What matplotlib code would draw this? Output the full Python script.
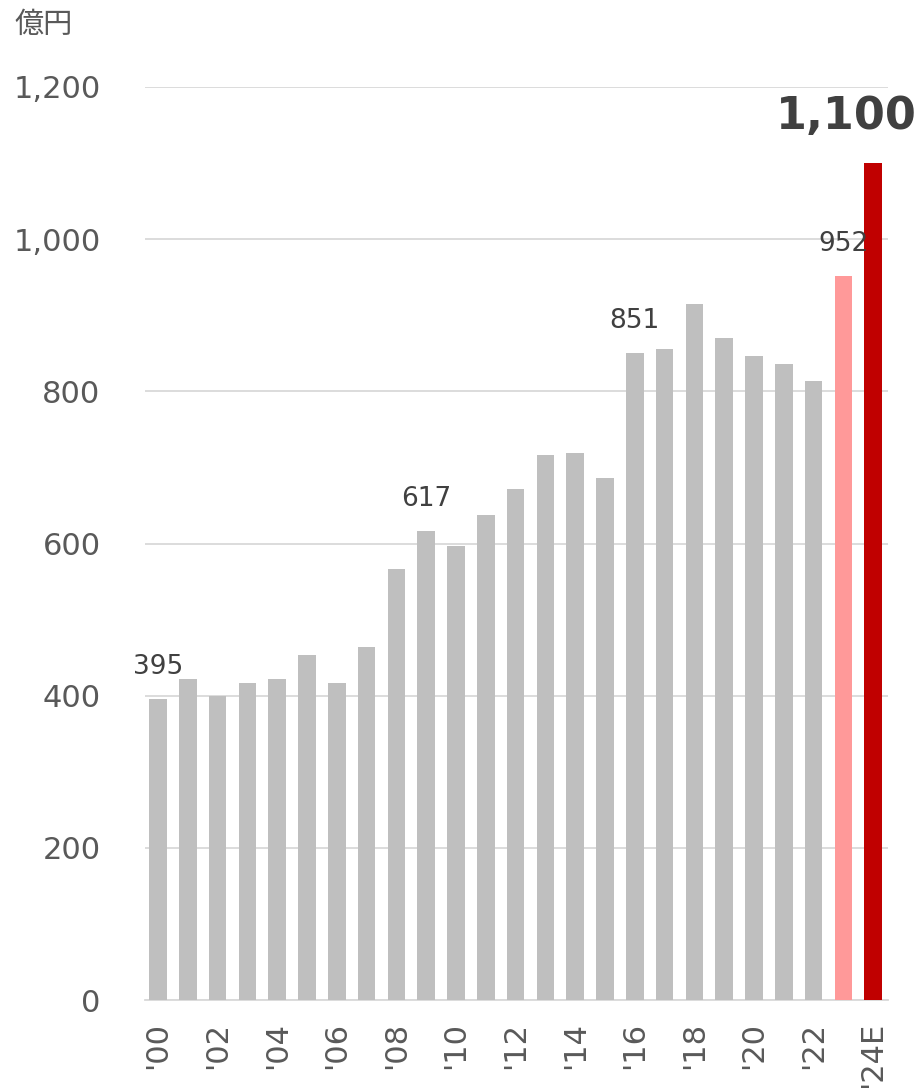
import matplotlib
matplotlib.use("Agg")
import matplotlib.pyplot as plt

years = ["'00", "'01", "'02", "'03", "'04", "'05", "'06", "'07", "'08", "'09",
         "'10", "'11", "'12", "'13", "'14", "'15", "'16", "'17", "'18", "'19",
         "'20", "'21", "'22", "'23", "'24E"]
values = [395, 422, 399, 416, 422, 454, 416, 464, 567, 617,
          597, 637, 671, 716, 719, 686, 851, 855, 915, 870,
          847, 836, 813, 952, 1100]
tick_labels = ["'00", "'02", "'04", "'06", "'08", "'10", "'12", "'14", "'16",
               "'18", "'20", "'22", "'24E"]
labeled = {"'00": "395", "'09": "617", "'16": "851", "'23": "952"}
unit = "億円"

plt.rcParams['font.family'] = ['DejaVu Sans', 'Noto Sans CJK JP']

colors = ['#bfbfbf'] * (len(values) - 2) + ['#ff9999', '#c00000']

fig = plt.figure(figsize=(9.22, 10.88), dpi=100)
ax = fig.add_axes([145/922, 1 - 1000/1088, (888-145)/922, (1000-87)/1088])

x = list(range(len(values)))
ax.bar(x, values, width=0.59, color=colors, zorder=3)

ax.set_ylim(0, 1200)
ax.set_xlim(-0.44, len(values) - 0.5)
ax.set_yticks(range(0, 1201, 200))
ax.set_yticklabels([f"{v:,}" for v in range(0, 1201, 200)])
ax.yaxis.grid(True, color='#d9d9d9', linewidth=1.3, zorder=0)
ax.set_axisbelow(True)

tick_pos = [years.index(t) for t in tick_labels]
ax.set_xticks(tick_pos)
ax.set_xticklabels(tick_labels, rotation=90)

ax.tick_params(axis='y', length=0, pad=32, labelsize=22, labelcolor='#595959')
ax.tick_params(axis='x', length=0, pad=16, labelsize=22, labelcolor='#595959')

for s in ['top', 'right', 'left']:
    ax.spines[s].set_visible(False)
ax.spines['bottom'].set_color('#d9d9d9')
ax.spines['bottom'].set_linewidth(1.3)

for yr, txt in labeled.items():
    i = years.index(yr)
    ax.annotate(txt, xy=(i, values[i]), xytext=(0, 32), textcoords='offset pixels',
                ha='center', va='center', fontsize=19, color='#404040',
                annotation_clip=False, zorder=5)

i = len(values) - 1
ax.annotate(f"{values[i]:,}", xy=(i, values[i]), xytext=(-27, 47),
            textcoords='offset pixels', ha='center', va='center',
            fontsize=32, fontweight='bold', color='#404040', annotation_clip=False)

fig.text(14/922, 1 - 25/1088, unit, ha='left', va='center', fontsize=21,
         color='#595959', family=['Noto Sans CJK JP', 'DejaVu Sans'])

fig.savefig('out.png', dpi=100)
